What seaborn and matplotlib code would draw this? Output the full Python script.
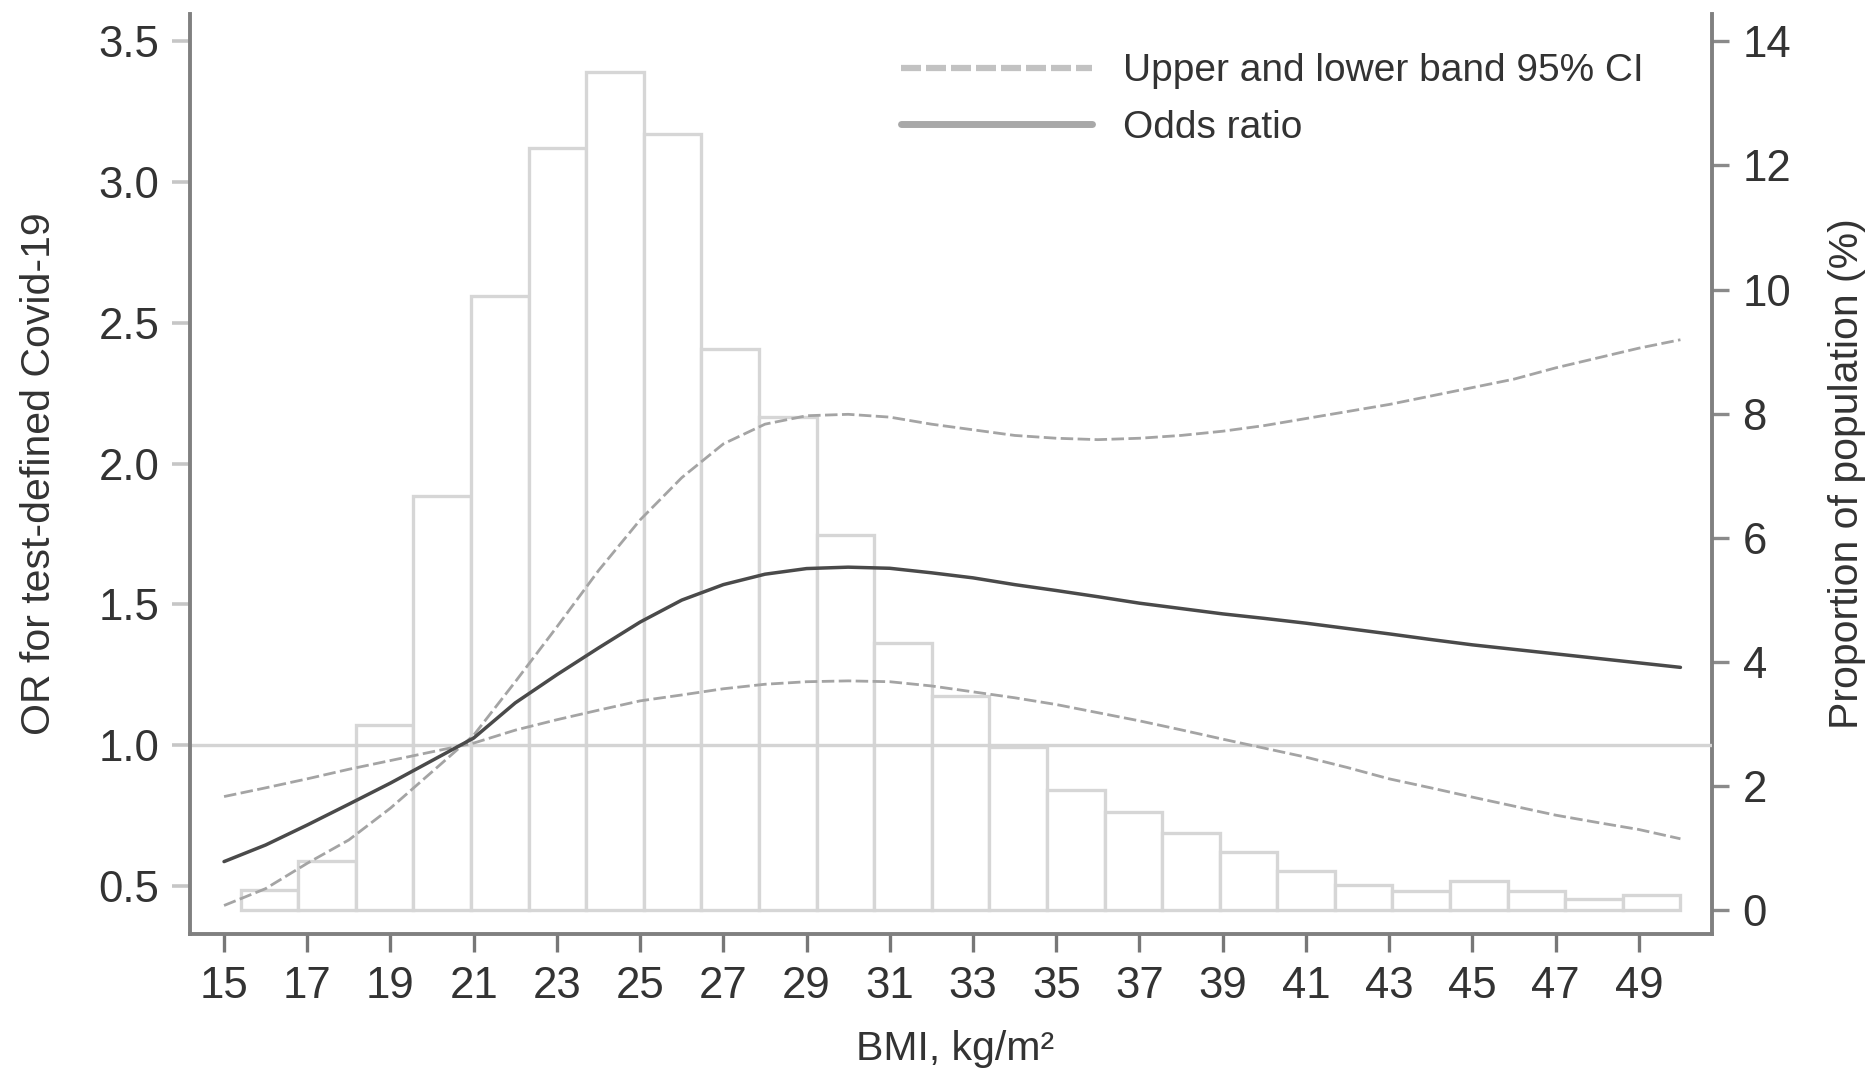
import numpy as np
import pandas as pd
import matplotlib
matplotlib.use("Agg")
import matplotlib.pyplot as plt
from matplotlib.lines import Line2D
import seaborn as sns

# BMI grid for the spline curves (kg/m^2)
bmi = np.arange(15, 51)

# Odds ratio and its 95% confidence band
odds_ratio = [0.586, 0.645, 0.716, 0.79, 0.865, 0.945, 1.025, 1.15, 1.25, 1.345,
              1.437, 1.515, 1.57, 1.607, 1.627, 1.632, 1.628, 1.612, 1.594, 1.57,
              1.549, 1.527, 1.504, 1.485, 1.466, 1.45, 1.433, 1.414, 1.395, 1.375,
              1.356, 1.34, 1.324, 1.308, 1.292, 1.276]
ci_upper = [0.43, 0.49, 0.58, 0.663, 0.776, 0.905, 1.035, 1.225, 1.42, 1.62,
            1.80, 1.95, 2.07, 2.14, 2.17, 2.175, 2.165, 2.14, 2.12, 2.10,
            2.09, 2.085, 2.09, 2.10, 2.115, 2.135, 2.16, 2.185, 2.21, 2.24,
            2.27, 2.30, 2.34, 2.375, 2.41, 2.44]
ci_lower = [0.817, 0.848, 0.88, 0.914, 0.945, 0.976, 1.007, 1.053, 1.09, 1.124,
            1.157, 1.178, 1.20, 1.216, 1.225, 1.228, 1.225, 1.21, 1.189, 1.168,
            1.144, 1.115, 1.086, 1.054, 1.021, 0.989, 0.957, 0.92, 0.88, 0.848,
            0.815, 0.783, 0.751, 0.725, 0.70, 0.667]

# Distribution of BMI in the population (% per bin), 25 bins over 15.4-50
pop_pct = [0.33, 0.79, 2.99, 6.68, 9.89, 12.28, 13.50, 12.50, 9.04, 7.95,
           6.05, 4.31, 3.46, 2.64, 1.94, 1.58, 1.25, 0.94, 0.63, 0.41,
           0.32, 0.47, 0.32, 0.18, 0.25]
bin_lo, bin_hi = 15.4, 50.0

x_ticks = list(range(15, 50, 2))
left_ticks = [0.5, 1.0, 1.5, 2.0, 2.5, 3.0, 3.5]
right_ticks = [0, 2, 4, 6, 8, 10, 12, 14]

sns.set_theme(style="white")
plt.rcParams["font.family"] = ["Liberation Sans", "DejaVu Sans"]
text_col = "#333333"

edges = np.linspace(bin_lo, bin_hi, len(pop_pct) + 1)
centers = (edges[:-1] + edges[1:]) / 2
hist_df = pd.DataFrame({"bmi": centers, "pct": pop_pct})
curve_df = pd.DataFrame({"bmi": bmi, "or": odds_ratio,
                         "upper": ci_upper, "lower": ci_lower})

fig = plt.figure(figsize=(18.75, 10.68), dpi=100)
ax = fig.add_axes([0.1012, 0.1258, 0.8119, 0.8613])
ax2 = ax.twinx()
ax.set_zorder(ax2.get_zorder() + 1)
ax.patch.set_visible(False)

# Population histogram on the right axis
sns.histplot(data=hist_df, x="bmi", weights="pct", bins=len(pop_pct),
             binrange=(bin_lo, bin_hi), ax=ax2,
             stat="count", element="bars", fill=True, color="white",
             edgecolor="#d6d6d6", linewidth=2.4, alpha=1)

# Reference line and spline curves on the left axis
ax.axhline(1.0, color="#d4d4d4", lw=2.4, zorder=1)
sns.lineplot(data=curve_df, x="bmi", y="upper", ax=ax, color="#a4a4a4",
             lw=2.0, linestyle=(0, (4.5, 1.6)), zorder=3)
sns.lineplot(data=curve_df, x="bmi", y="lower", ax=ax, color="#a4a4a4",
             lw=2.0, linestyle=(0, (4.5, 1.6)), zorder=3)
sns.lineplot(data=curve_df, x="bmi", y="or", ax=ax, color="#4a4a4a",
             lw=2.5, zorder=4)

ax.set_xlim(14.176, 50.76)
ax.set_ylim(0.330, 3.598)
ax2.set_ylim(-0.374, 14.443)

ax.set_xticks(x_ticks)
ax.set_xticklabels([str(t) for t in x_ticks])
ax.set_yticks(left_ticks)
ax.set_yticklabels([f"{t:.1f}" for t in left_ticks])
ax2.set_yticks(right_ticks)
ax2.set_yticklabels([str(t) for t in right_ticks])

tick_fs = 31.5
ax.tick_params(axis="x", which="both", bottom=True, length=13, width=2.4,
               color="#777777", pad=10.5, labelsize=tick_fs, labelcolor=text_col)
ax.tick_params(axis="y", which="both", left=True, length=13, width=2.6,
               color="#c6c6c6", pad=9, labelsize=tick_fs, labelcolor=text_col)
ax2.tick_params(axis="y", which="both", right=True, length=12, width=2.4,
                color="#8a8a8a", pad=10, labelsize=tick_fs, labelcolor=text_col)

for a in (ax, ax2):
    a.spines["top"].set_visible(False)
    a.grid(False)
ax.spines["right"].set_visible(False)
ax2.spines["left"].set_visible(False)
ax2.spines["bottom"].set_visible(False)
for sp, a in (("left", ax), ("bottom", ax), ("right", ax2)):
    a.spines[sp].set_color("#808080")
    a.spines[sp].set_linewidth(2.8)

label_fs = 29.5
ax.set_xlabel("BMI, kg/m²", fontsize=label_fs, color=text_col)
ax.xaxis.label.set_va("baseline")
ax.xaxis.set_label_coords(0.503, -0.1373)
ax.set_ylabel("OR for test-defined Covid-19", fontsize=label_fs, color=text_col)
ax.yaxis.label.set_va("center")
ax.yaxis.set_label_coords(-0.099, 0.5)
ax2.set_ylabel("Proportion of population (%)", fontsize=label_fs,
               color=text_col, rotation=90)
ax2.yaxis.label.set_va("center")
ax2.yaxis.set_label_coords(1.0887, 0.5)

handles = [
    Line2D([], [], color="#c2c2c2", lw=4.5, linestyle=(0, (3.2, 0.8))),
    Line2D([], [], color="#a8a8a8", lw=5.0),
]
leg = ax.legend(handles, ["Upper and lower band 95% CI", "Odds ratio"],
                loc="upper left", bbox_to_anchor=(0.4673, 0.957),
                frameon=False, fontsize=28, handlelength=4.9,
                handletextpad=0.8, labelspacing=0.52, borderpad=0,
                borderaxespad=0)
for t in leg.get_texts():
    t.set_color(text_col)

fig.savefig("out.png", dpi=100)
